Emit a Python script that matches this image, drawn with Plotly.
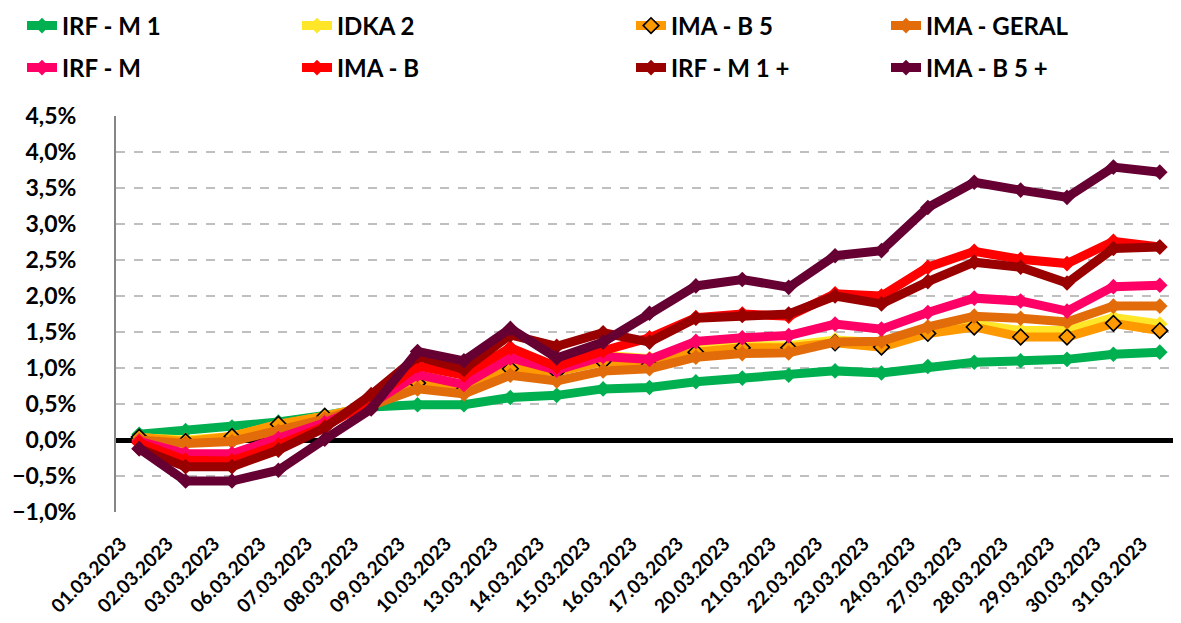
import plotly.graph_objects as go

dates = ["01.03.2023","02.03.2023","03.03.2023","06.03.2023","07.03.2023","08.03.2023",
         "09.03.2023","10.03.2023","13.03.2023","14.03.2023","15.03.2023","16.03.2023",
         "17.03.2023","20.03.2023","21.03.2023","22.03.2023","23.03.2023","24.03.2023",
         "27.03.2023","28.03.2023","29.03.2023","30.03.2023","31.03.2023"]

irf_m1 = [0.08,0.13,0.18,0.25,0.34,0.46,0.49,0.49,0.59,0.62,0.71,0.73,0.81,0.86,0.90,0.96,0.93,1.02,1.08,1.10,1.12,1.19,1.22]
idka2 = [0.03,0.00,0.05,0.21,0.33,0.47,0.80,0.72,1.02,0.95,1.18,1.13,1.25,1.31,1.31,1.39,1.35,1.52,1.61,1.52,1.52,1.70,1.61]
ima_b5 = [0.04,-0.02,0.05,0.22,0.33,0.47,0.79,0.70,0.99,0.95,1.09,1.05,1.22,1.28,1.28,1.35,1.29,1.48,1.57,1.43,1.43,1.62,1.52]
ima_geral = [0.00,-0.05,-0.02,0.12,0.29,0.48,0.71,0.64,0.90,0.82,0.96,0.99,1.15,1.20,1.21,1.36,1.37,1.57,1.72,1.69,1.64,1.86,1.86]
irf_m = [-0.02,-0.19,-0.19,0.02,0.24,0.50,0.91,0.77,1.14,0.97,1.16,1.12,1.37,1.42,1.45,1.61,1.54,1.77,1.97,1.93,1.79,2.13,2.15]
ima_b = [-0.04,-0.28,-0.29,-0.07,0.19,0.55,1.03,0.90,1.28,1.02,1.24,1.42,1.70,1.75,1.72,2.03,2.00,2.40,2.62,2.51,2.45,2.76,2.68]
irf_m1p = [-0.12,-0.37,-0.37,-0.14,0.17,0.63,1.16,0.98,1.46,1.30,1.49,1.36,1.69,1.73,1.75,2.00,1.89,2.20,2.47,2.40,2.18,2.66,2.68]
ima_b5p = [-0.12,-0.57,-0.57,-0.42,0.01,0.43,1.23,1.10,1.55,1.14,1.36,1.76,2.14,2.23,2.12,2.56,2.63,3.23,3.58,3.47,3.37,3.79,3.72]

names = ["IRF - M 1","IDKA 2","IMA - B 5","IMA - GERAL","IRF - M","IMA - B","IRF - M 1 +","IMA - B 5 +"]
series = [irf_m1, idka2, ima_b5, ima_geral, irf_m, ima_b, irf_m1p, ima_b5p]
colors = ["#00B050","#FFE629","#FF9900","#E36C0A","#FF0066","#FF0000","#990000","#660033"]

FONT = "Lato"
W, H = 1181, 623

# legend placement (pixel positions of legend box left, row centres)
col_px = [14, 289, 623, 878]
row_px = [18, 60]

fig = go.Figure()
for i, (nm, ys, c) in enumerate(zip(names, series, colors)):
    if nm == "IMA - B 5":
        marker = dict(symbol="diamond", size=12, color=c, line=dict(color="#000000", width=1.6))
    else:
        marker = dict(symbol="diamond", size=12, color=c, line=dict(width=0))
    fig.add_trace(go.Scatter(
        x=dates, y=ys, name=nm, mode="lines+markers",
        line=dict(color=c, width=9), marker=marker,
        legend="legend" if i == 0 else f"legend{i+1}",
    ))

layout_legends = {}
for i in range(8):
    col = i % 4
    row = i // 4
    key = "legend" if i == 0 else f"legend{i+1}"
    layout_legends[key] = dict(
        xref="container", yref="container",
        x=col_px[col] / W, y=1 - row_px[row] / H,
        xanchor="left", yanchor="middle",
        font=dict(family=FONT, size=24, color="#000000", weight="bold"),
        bgcolor="rgba(0,0,0,0)", itemwidth=30,
    )

fig.update_layout(
    width=W, height=H,
    margin=dict(l=108, r=6, t=108, b=119, autoexpand=False),
    paper_bgcolor="white", plot_bgcolor="white",
    separators=",.",
    showlegend=True,
    **layout_legends,
)

fig.update_yaxes(
    range=[-1.0, 4.5], dtick=0.5, tick0=0, tickformat=".1f", ticksuffix="%",
    showgrid=True, gridcolor="#BFBFBF", gridwidth=1.5, griddash="dash",
    zeroline=True, zerolinecolor="#000000", zerolinewidth=5,
    showline=True, linecolor="#868686", linewidth=2,
    ticks="", tickfont=dict(family=FONT, size=23, color="#000000", weight="bold"),
    ticklabelstandoff=33, automargin=False,
)
fig.update_xaxes(
    type="category", range=[-0.5, len(dates) - 0.5], tickmode="linear", dtick=1, tickangle=-45,
    showgrid=False, zeroline=False, showline=False, automargin=False,
    ticks="", tickfont=dict(family=FONT, size=19, color="#000000", weight="bold"),
    ticklabelstandoff=16, ticklabelshift=-18,
)

fig.write_html("out.html")
